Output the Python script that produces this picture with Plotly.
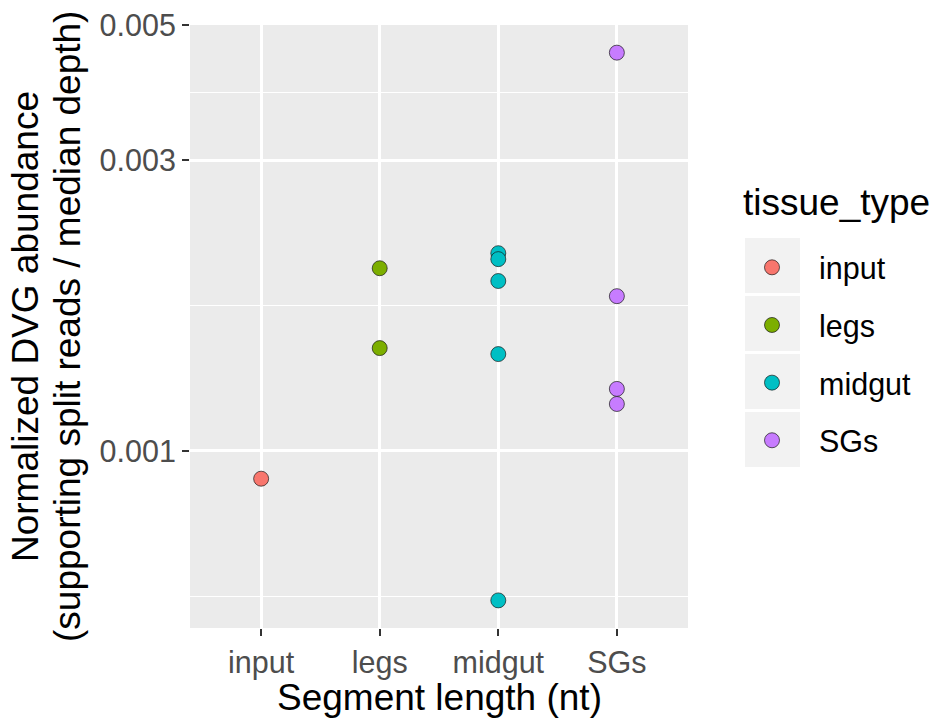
import plotly.graph_objects as go
import numpy as np

# Normalized DVG abundance per tissue
categories = ["input", "legs", "midgut", "SGs"]
input_vals = [0.000900]
legs_vals = [0.001995, 0.001475]
midgut_vals = [0.002112, 0.002065, 0.001901, 0.001442, 0.000568]
sgs_vals = [0.004509, 0.001795, 0.001264, 0.001194]

series = {
    "input": input_vals,
    "legs": legs_vals,
    "midgut": midgut_vals,
    "SGs": sgs_vals,
}
colors = {"input": "#F8766D", "legs": "#7CAE00", "midgut": "#00BFC4", "SGs": "#C77CFF"}

y_major = [0.001, 0.003, 0.005]
y_major_labels = ["0.001", "0.003", "0.005"]

# minor breaks sit halfway between majors on the log scale
logs = np.log10(y_major)
y_minor = [10 ** ((logs[0] - (logs[1] - logs[0]) / 2))] + [10 ** ((a + b) / 2) for a, b in zip(logs[:-1], logs[1:])]

FONT = "Liberation Sans, Arial, Helvetica, sans-serif"
TITLE_SIZE = 37
TICK_SIZE = 30.5
W, H = 933, 719
L, R, T, B = 190, 245, 25, 91
PW, PH = W - L - R, H - T - B

fig = go.Figure()
for name in categories:
    vals = series[name]
    fig.add_trace(go.Scatter(
        x=[name] * len(vals), y=vals, mode="markers", name=name,
        legendgroup=name,
        marker=dict(size=15, color=colors[name],
                    line=dict(color="rgba(20,20,20,0.85)", width=0.8)),
    ))

def px_x(px):
    return (px - L) / PW

def px_y(py):
    return (H - B - py) / PH

annotations = [
    dict(text="Segment length (nt)", xref="paper", yref="paper", x=0.5, y=px_y(697),
         xanchor="center", yanchor="middle", showarrow=False,
         font=dict(size=TITLE_SIZE, color="black", family=FONT)),
    dict(text="Normalized DVG abundance", xref="paper", yref="paper", x=px_x(26), y=px_y(327),
         xanchor="center", yanchor="middle", showarrow=False, textangle=-90,
         font=dict(size=TITLE_SIZE, color="black", family=FONT)),
    dict(text="(supporting split reads / median depth)", xref="paper", yref="paper", x=px_x(68), y=px_y(327),
         xanchor="center", yanchor="middle", showarrow=False, textangle=-90,
         font=dict(size=TITLE_SIZE, color="black", family=FONT)),
    dict(text="tissue_type", xref="paper", yref="paper", x=px_x(741), y=px_y(202),
         xanchor="left", yanchor="middle", showarrow=False,
         font=dict(size=TITLE_SIZE, color="black", family=FONT)),
]

# grey key backgrounds behind the legend entries
shapes = []
for k in range(4):
    top = 238 + k * 58
    shapes.append(dict(type="rect", xref="paper", yref="paper",
                       x0=px_x(745), x1=px_x(800), y0=px_y(top + 55), y1=px_y(top),
                       fillcolor="#F2F2F2", line=dict(width=0), layer="below"))

fig.update_layout(
    width=W, height=H,
    margin=dict(l=L, r=R, t=T, b=B, autoexpand=False),
    paper_bgcolor="white", plot_bgcolor="#EBEBEB",
    font=dict(family=FONT, color="#4D4D4D"),
    annotations=annotations,
    shapes=shapes,
    legend=dict(
        font=dict(size=TICK_SIZE, color="black", family=FONT),
        x=px_x(725), y=px_y(241), xanchor="left", yanchor="top",
        bgcolor="rgba(0,0,0,0)", tracegroupgap=15, itemwidth=84,
    ),
)
fig.update_xaxes(
    type="category", categoryorder="array", categoryarray=categories,
    range=[-0.6, 3.6], showgrid=True, gridcolor="white", gridwidth=2.5,
    ticks="outside", ticklen=7, tickwidth=1.5, tickcolor="#333333",
    tickfont=dict(size=TICK_SIZE, color="#4D4D4D", family=FONT),
    zeroline=False, showline=False,
)
fig.update_yaxes(
    type="log", range=[-3.291, -2.3005],
    tickvals=y_major, ticktext=y_major_labels,
    showgrid=True, gridcolor="white", gridwidth=2.5,
    minor=dict(tickvals=y_minor, showgrid=True, gridcolor="white", gridwidth=1.3, ticks=""),
    ticks="outside", ticklen=7, tickwidth=1.5, tickcolor="#333333",
    tickfont=dict(size=TICK_SIZE, color="#4D4D4D", family=FONT),
    zeroline=False, showline=False,
)

fig.write_html("out.html")
